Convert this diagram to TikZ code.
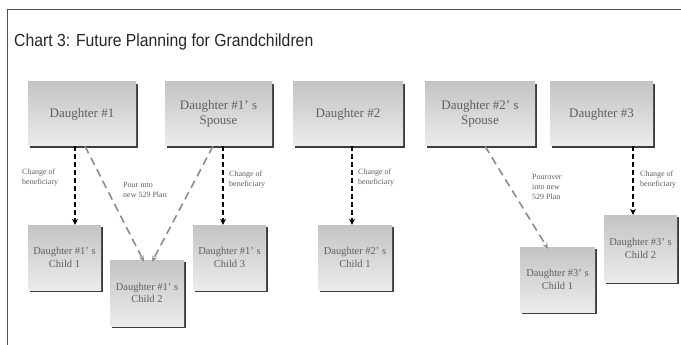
\documentclass[tikz,border=0pt]{standalone}
\usepackage{fontspec}
\setmainfont{Liberation Serif}
\newfontfamily\titlefont{Liberation Sans}
\usetikzlibrary{arrows.meta,shadows}
\definecolor{boxtop}{RGB}{196,196,196}
\definecolor{boxbot}{RGB}{236,236,236}
\definecolor{boxtext}{RGB}{95,95,95}
\definecolor{shadowc}{RGB}{60,60,60}
\definecolor{framec}{RGB}{80,80,80}
\definecolor{pourc}{RGB}{140,140,140}
\tikzset{
  pbox/.style={rectangle, top color=boxtop, bottom color=boxbot, draw=none,
    text=boxtext, align=center, inner sep=2pt,
    drop shadow={shadow xshift=1.6pt, shadow yshift=-1.6pt, fill=shadowc, opacity=1}},
  parent/.style={pbox, minimum height=64pt, font=\fontsize{13}{15}\selectfont},
  child/.style={pbox, minimum width=73pt, minimum height=65pt, font=\fontsize{10.5}{12.5}\selectfont},
  benef/.style={draw=black, line width=2.4pt, dash pattern=on 5pt off 3pt,
    -{Stealth[length=6pt,width=6pt]}},
  pour/.style={draw=pourc, line width=1.6pt, dash pattern=on 8pt off 5pt,
    -{Stealth[length=6pt,width=5pt,open]}},
  lbl/.style={text=boxtext, align=left, inner sep=0pt, font=\fontsize{8}{10}\selectfont}
}
\begin{document}
\begin{tikzpicture}[x=1pt,y=-1pt]
\useasboundingbox (0,0) rectangle (681,345);
\clip (0,0) rectangle (681,345);
% frame
\draw[framec, line width=1pt] (7.5,345) -- (7.5,10) -- (681,10);
% title
\node[anchor=west, inner sep=0pt, text=black!85] (title) at (14,42)
  {\scalebox{0.9}[1]{\titlefont\fontsize{17.5}{20}\selectfont Chart 3: Future Planning for Grandchildren}};
% parents
\node[parent, minimum width=108pt] (d1) at (82,114) {Daughter \#1};
\node[parent, minimum width=107pt] (s1) at (218.5,114) {Daughter \#1' s\\Spouse};
\node[parent, minimum width=110pt] (d2) at (348,114) {Daughter \#2};
\node[parent, minimum width=110pt] (s2) at (480,114) {Daughter \#2' s\\Spouse};
\node[parent, minimum width=103pt] (d3) at (601.5,114) {Daughter \#3};
% children
\node[child] (c11) at (64.5,257.5) {Daughter \#1' s\\Child 1};
\node[child, minimum width=74pt, minimum height=66pt] (c12) at (147,293) {Daughter \#1' s\\Child 2};
\node[child] (c13) at (229.5,257.5) {Daughter \#1' s\\Child 3};
\node[child, minimum width=74pt] (c21) at (355,257.5) {Daughter \#2' s\\Child 1};
\node[child, minimum width=75pt] (c31) at (557.5,279.5) {Daughter \#3' s\\Child 1};
\node[child, minimum height=67pt] (c32) at (640.5,248.5) {Daughter \#3' s\\Child 2};
% connectors
\draw[benef] ([xshift=-7pt]d1.south) -- ([xshift=10.5pt]c11.north);
\draw[benef] ([xshift=4.5pt]s1.south) -- ([xshift=-6.5pt]c13.north);
\draw[benef] ([xshift=4pt]d2.south) -- ([xshift=-3pt]c21.north);
\draw[benef] ([xshift=31.5pt]d3.south) -- ([xshift=-7.5pt]c32.north);
\draw[pour] ([xshift=3pt]d1.south) -- ([xshift=-3pt,yshift=-2pt]c12.north);
\draw[pour] ([xshift=-5.5pt]s1.south) -- ([xshift=5pt,yshift=-2pt]c12.north);
\draw[pour] ([xshift=5pt]s2.south) -- ([xshift=-9.5pt,yshift=-2pt]c31.north);
% labels
\node[lbl, anchor=west] (l1) at (22,178) {Change of\\beneficiary};
\node[lbl, anchor=west] (l2) at (123,190) {Pour into\\new 529 Plan};
\node[lbl, anchor=west] (l3) at (229,180) {Change of\\beneficiary};
\node[lbl, anchor=west] (l4) at (358,178) {Change of\\beneficiary};
\node[lbl, anchor=west] (l5) at (532,187) {Pourover\\into new\\529 Plan};
\node[lbl, anchor=west] (l6) at (640,180) {Change of\\beneficiary};
\end{tikzpicture}
\end{document}
